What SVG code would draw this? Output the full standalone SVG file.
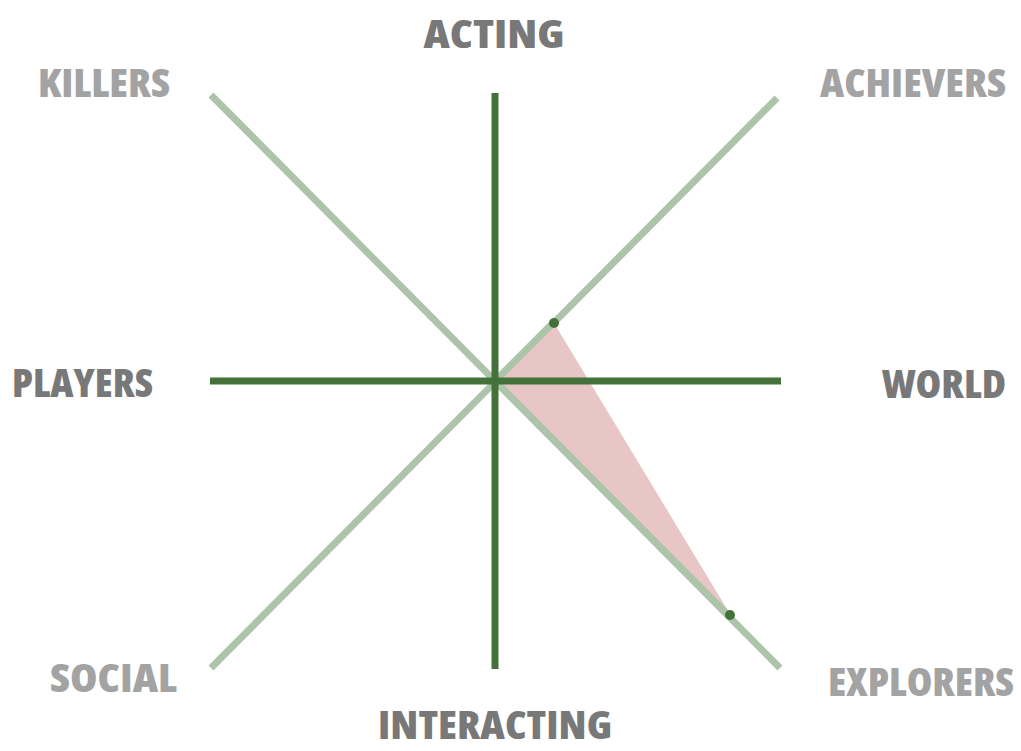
<svg xmlns="http://www.w3.org/2000/svg" width="1021" height="751" viewBox="0 0 1021 751">
  <style>
    .diag { stroke: #adc4aa; stroke-width: 7; fill: none; }
    .axis { stroke: #44703a; stroke-width: 7; fill: none; }
    .lbl { font-family: "Open Sans", "Liberation Sans", sans-serif; font-weight: 800; font-size: 39px; font-stretch: 80%; }
    .main { fill: #787878; }
    .type { fill: #a3a3a3; }
    .dot { fill: #44703a; }
    .mid { text-anchor: middle; }
    .end { text-anchor: end; }
  </style>
  <rect width="1021" height="751" fill="#ffffff"/>

  <g id="connectors">
    <line class="diag" x1="211" y1="95" x2="780" y2="668"/>
    <line class="diag" x1="211" y1="668" x2="777" y2="98"/>
  </g>

  <g id="area">
    <polygon points="495,381 554,323 730,614" fill="#e8c6c5"/>
    <line class="diag" x1="495" y1="381" x2="554" y2="322"/>
    <line class="diag" x1="495" y1="381" x2="730" y2="617"/>
  </g>

  <g id="axes">
    <line class="axis" x1="495" y1="93" x2="495" y2="669"/>
    <line class="axis" x1="210" y1="381" x2="781" y2="381"/>
  </g>

  <g id="points">
    <circle class="dot" cx="554" cy="323" r="5"/>
    <circle class="dot" cx="730" cy="615" r="5"/>
  </g>

  <g id="acting"><text class="lbl main mid" x="494" y="48" textLength="141" lengthAdjust="spacingAndGlyphs">ACTING</text></g>
  <g id="interacting"><text class="lbl main mid" x="495" y="739" textLength="234" lengthAdjust="spacingAndGlyphs">INTERACTING</text></g>
  <g id="players"><text class="lbl main" x="12" y="397" textLength="141" lengthAdjust="spacingAndGlyphs">PLAYERS</text></g>
  <g id="world"><text class="lbl main end" x="1006" y="398" textLength="124" lengthAdjust="spacingAndGlyphs">WORLD</text></g>
  <g id="killers"><text class="lbl type" x="38" y="97" textLength="132" lengthAdjust="spacingAndGlyphs">KILLERS</text></g>
  <g id="achievers"><text class="lbl type end" x="1006" y="97" textLength="186" lengthAdjust="spacingAndGlyphs">ACHIEVERS</text></g>
  <g id="social"><text class="lbl type" x="50" y="692" textLength="127" lengthAdjust="spacingAndGlyphs">SOCIAL</text></g>
  <g id="explorers"><text class="lbl type end" x="1014" y="696" textLength="186" lengthAdjust="spacingAndGlyphs">EXPLORERS</text></g>
</svg>
